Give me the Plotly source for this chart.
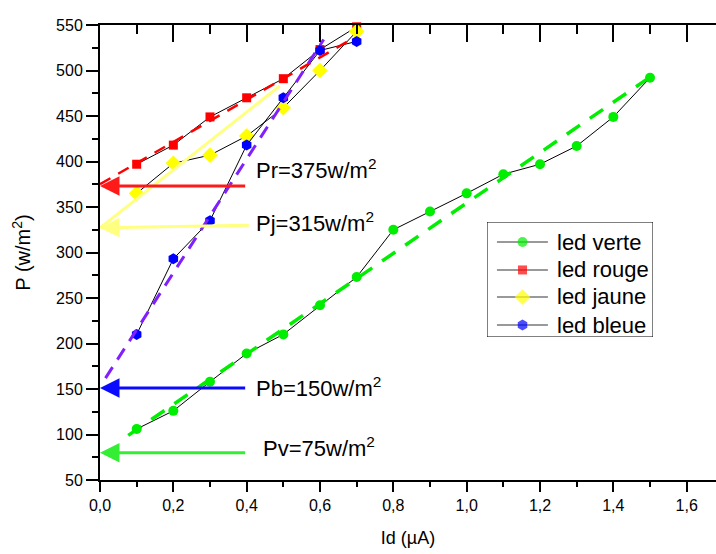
import plotly.graph_objects as go

# ---- data ----
id_verte = [0.1, 0.2, 0.3, 0.4, 0.5, 0.6, 0.7, 0.8, 0.9, 1.0, 1.1, 1.2, 1.3, 1.4, 1.5]
p_verte = [106, 126, 158, 189, 210, 242, 273, 325, 345, 365, 386, 397, 417, 449, 492]

id_rouge = [0.1, 0.2, 0.3, 0.4, 0.5, 0.6, 0.7]
p_rouge = [397, 418, 449, 470, 491, 523, 548]

id_jaune = [0.1, 0.2, 0.3, 0.4, 0.5, 0.6, 0.7]
p_jaune = [365, 398, 407, 428, 459, 500, 543]

id_bleue = [0.1, 0.2, 0.3, 0.4, 0.5, 0.6, 0.7]
p_bleue = [210, 293, 335, 418, 470, 522, 532]

# fitted lines (endpoints)
fit_verte_x = [0.077, 1.49]
fit_verte_y = [99, 490]
fit_rouge_x = [0.0, 0.68]
fit_rouge_y = [375, 533]
fit_bleue_x = [0.015, 0.61]
fit_bleue_y = [162, 534]
fit_jaune_x = [0.0, 0.49]
fit_jaune_y = [327, 483]

# arrows: label, P level at arrow, start Id, colour
arrow_labels = ["Pr=375w/m<sup>2</sup>", "Pj=315w/m<sup>2</sup>", "Pb=150w/m<sup>2</sup>", "Pv=75w/m<sup>2</sup>"]
arrow_p_start = [373, 330, 151, 80]
arrow_p_end = [373, 327, 151, 80]
arrow_x_start = [0.4, 0.41, 0.4, 0.4]
arrow_colors = ["#ff1a1a", "#ffff80", "#0a0aff", "#33ee33"]
label_x = [0.42, 0.42, 0.42, 0.44]
label_p = [392, 333, 152, 86]

series = [
    ("led verte", id_verte, p_verte, "#00ee00", "circle", 10),
    ("led rouge", id_rouge, p_rouge, "#ff0000", "square", 9),
    ("led jaune", id_jaune, p_jaune, "#ffff00", "diamond", 12),
    ("led bleue", id_bleue, p_bleue, "#0000ff", "hexagon", 11),
]

FONT = "Liberation Sans, Arial, sans-serif"
fig = go.Figure()

for name, xs, ys, col, sym, sz in series:
    fig.add_trace(go.Scatter(
        x=xs, y=ys, mode="lines+markers", name=name, showlegend=False,
        line=dict(color="black", width=1),
        marker=dict(color=col, symbol=sym, size=sz, line=dict(width=0)),
        cliponaxis=False,
    ))

# fit lines
fig.add_trace(go.Scatter(x=fit_jaune_x, y=fit_jaune_y, mode="lines", showlegend=False,
                         line=dict(color="#ffff80", width=3)))
fig.add_trace(go.Scatter(x=fit_verte_x, y=fit_verte_y, mode="lines", showlegend=False,
                         line=dict(color="#00ee00", width=3.5, dash="16px,12px")))
fig.add_trace(go.Scatter(x=fit_rouge_x, y=fit_rouge_y, mode="lines", showlegend=False,
                         line=dict(color="#ff0000", width=2.5, dash="12px,9px")))
fig.add_trace(go.Scatter(x=fit_bleue_x, y=fit_bleue_y, mode="lines", showlegend=False,
                         line=dict(color="#8020ff", width=3, dash="13px,9px")))

# invisible trace for the top axis
fig.add_trace(go.Scatter(x=[0], y=[50], xaxis="x2", mode="markers",
                         marker=dict(opacity=0), showlegend=False, hoverinfo="skip"))

# ---- hand-drawn legend box (Origin style) on its own small axes ----
leg_rows = [0.826, 0.583, 0.348, 0.104]
fig.add_shape(type="rect", xref="x3", yref="y3", x0=0, x1=1, y0=0, y1=1,
              line=dict(color="black", width=1), fillcolor="white", layer="below")
for (name, xs, ys, col, sym, sz), ry in zip(series, leg_rows):
    fig.add_trace(go.Scatter(
        x=[0.06, 0.214, 0.367], y=[ry, ry, ry], xaxis="x3", yaxis="y3",
        mode="lines+markers", showlegend=False, hoverinfo="skip",
        line=dict(color="#777777", width=1.5),
        marker=dict(color=col, symbol=sym, size=[0, sz, 0], line=dict(width=0)),
    ))
    fig.add_annotation(x=0.41, y=ry, xref="x3", yref="y3", text=name, showarrow=False,
                       xanchor="left", yanchor="middle",
                       font=dict(family=FONT, size=22, color="black"))

for lab, p0, p1, x0, col, lx, lp in zip(arrow_labels, arrow_p_start, arrow_p_end,
                                        arrow_x_start, arrow_colors, label_x, label_p):
    fig.add_annotation(x=0, y=p1, ax=x0, ay=p0, xref="x", yref="y", axref="x", ayref="y",
                       showarrow=True, arrowhead=2, arrowsize=1.3, arrowwidth=3,
                       arrowcolor=col, text="")
    fig.add_annotation(x=lx, y=lp, xref="x", yref="y", text=lab, showarrow=False,
                       xanchor="left", yanchor="middle",
                       font=dict(family=FONT, size=22, color="black"))

fig.update_layout(
    width=716, height=554,
    margin=dict(l=100, r=0, t=25, b=74),
    plot_bgcolor="white", paper_bgcolor="white",
    separators=", ",
    showlegend=False,
    font=dict(family=FONT, size=16, color="black"),
    xaxis=dict(range=[0, 1.68], dtick=0.2, tick0=0, tickformat=".1f",
               showgrid=False, zeroline=False, showline=True, linecolor="black", linewidth=2,
               ticks="outside", ticklen=10, tickwidth=2, tickcolor="black",
               minor=dict(dtick=0.1, ticklen=5, tickwidth=2, tickcolor="black", ticks="outside"),
               title=dict(text="Id (µA)", font=dict(size=18), standoff=18)),
    xaxis2=dict(range=[0, 1.68], overlaying="x", side="top", dtick=0.2, tick0=0,
                showticklabels=False, showgrid=False, zeroline=False,
                showline=True, linecolor="black", linewidth=2,
                ticks="inside", ticklen=17, tickwidth=2, tickcolor="black",
                minor=dict(dtick=0.1, ticklen=9, tickwidth=2, tickcolor="black", ticks="inside")),
    yaxis=dict(range=[50, 550], dtick=50, tick0=50,
               showgrid=False, zeroline=False, showline=True, linecolor="black", linewidth=2,
               ticks="outside", ticklen=12, tickwidth=2, tickcolor="black",
               minor=dict(dtick=25, ticklen=6, tickwidth=2, tickcolor="black", ticks="outside"),
               title=dict(text="P (w/m<sup>2</sup>)", font=dict(size=20), standoff=20)),
    xaxis3=dict(domain=[(487 - 100) / 616, (653 - 100) / 616], range=[0, 1], anchor="y3",
                visible=False, fixedrange=True),
    yaxis3=dict(domain=[(480 - 337) / 455, (480 - 222) / 455], range=[0, 1], anchor="x3",
                visible=False, fixedrange=True),
)

fig.write_html("out.html")
